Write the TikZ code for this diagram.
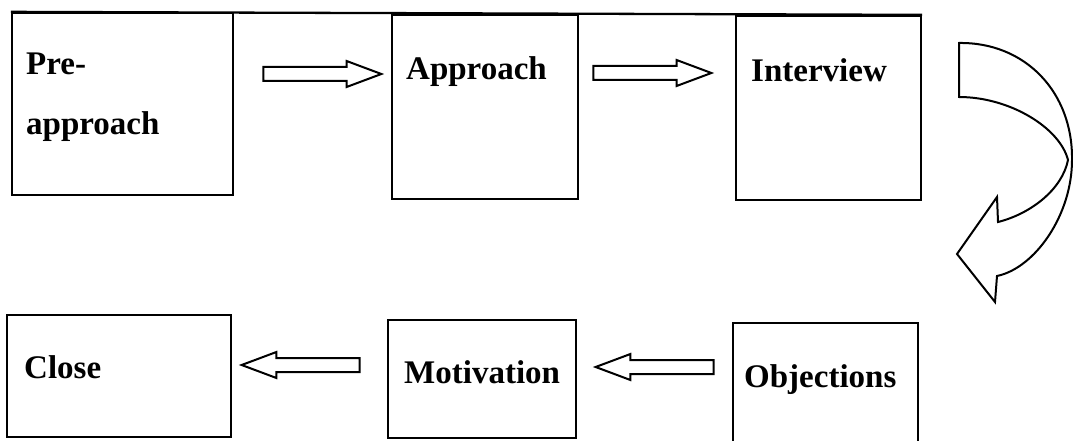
\documentclass[tikz,border=0pt]{standalone}
\usepackage{fontspec}
\setmainfont{Liberation Serif}
\usetikzlibrary{shapes.arrows}
\tikzset{
  box/.style={draw=black, line width=2.3pt, inner sep=0pt, rectangle},
  lbl/.style={font=\bfseries\fontsize{33}{60}\selectfont, inner sep=0pt, anchor=base west, align=left},
  blockarrow/.style={single arrow, draw=black, line width=2pt, inner sep=6pt,
    single arrow head extend=6pt, single arrow tip angle=41, minimum height=118pt},
  curvedarrow/.style={draw=black, line width=2pt, line join=miter}
}
\begin{document}
\begin{tikzpicture}[x=1pt,y=-1pt]
\useasboundingbox (0,0) rectangle (1073,441);
% boxes
\node[box, minimum width=221pt, minimum height=182pt] (pre) at (122.5,104) {};
\node[box, minimum width=186pt, minimum height=184pt] (app) at (485,107) {};
\node[box, minimum width=185pt, minimum height=184pt] (int) at (828.5,108) {};
\node[box, minimum width=224pt, minimum height=122pt] (clo) at (119,376) {};
\node[box, minimum width=188pt, minimum height=118pt] (mot) at (482,379) {};
\node[box, minimum width=185pt, minimum height=125pt] (obj) at (825.5,385.5) {};
% top line
\draw[line width=2.3pt] (pre.north west) -- (int.north east);
% labels
\node[lbl, anchor=north west] (tpre) at (26,53) {Pre-\\approach};
\node[lbl] (tapp) at (406,80) {Approach};
\node[lbl] (tint) at (751,82) {Interview};
\node[lbl] (tclo) at (24,378) {Close};
\node[lbl] (tmot) at (404,383) {Motivation};
\node[lbl] (tobj) at (744,387) {Objections};
% block arrows
\node[blockarrow] (a1) at (313,74) {};
\node[blockarrow] (a2) at (643,73) {};
\node[blockarrow, shape border rotate=180] (a3) at (310,365) {};
\node[blockarrow, shape border rotate=180] (a4) at (664,367) {};
% curved arrow
\draw[curvedarrow]
  (959,43) .. controls (1025,42) and (1073,92) .. (1072,160)
  .. controls (1072,215) and (1035,268) .. (997,276)
  -- (995,302) -- (957,254) -- (997,197) -- (998,222)
  .. controls (1030,214) and (1062,190) .. (1068,160)
  .. controls (1060,128) and (1010,97) .. (959,97) -- cycle;
\end{tikzpicture}
\end{document}
